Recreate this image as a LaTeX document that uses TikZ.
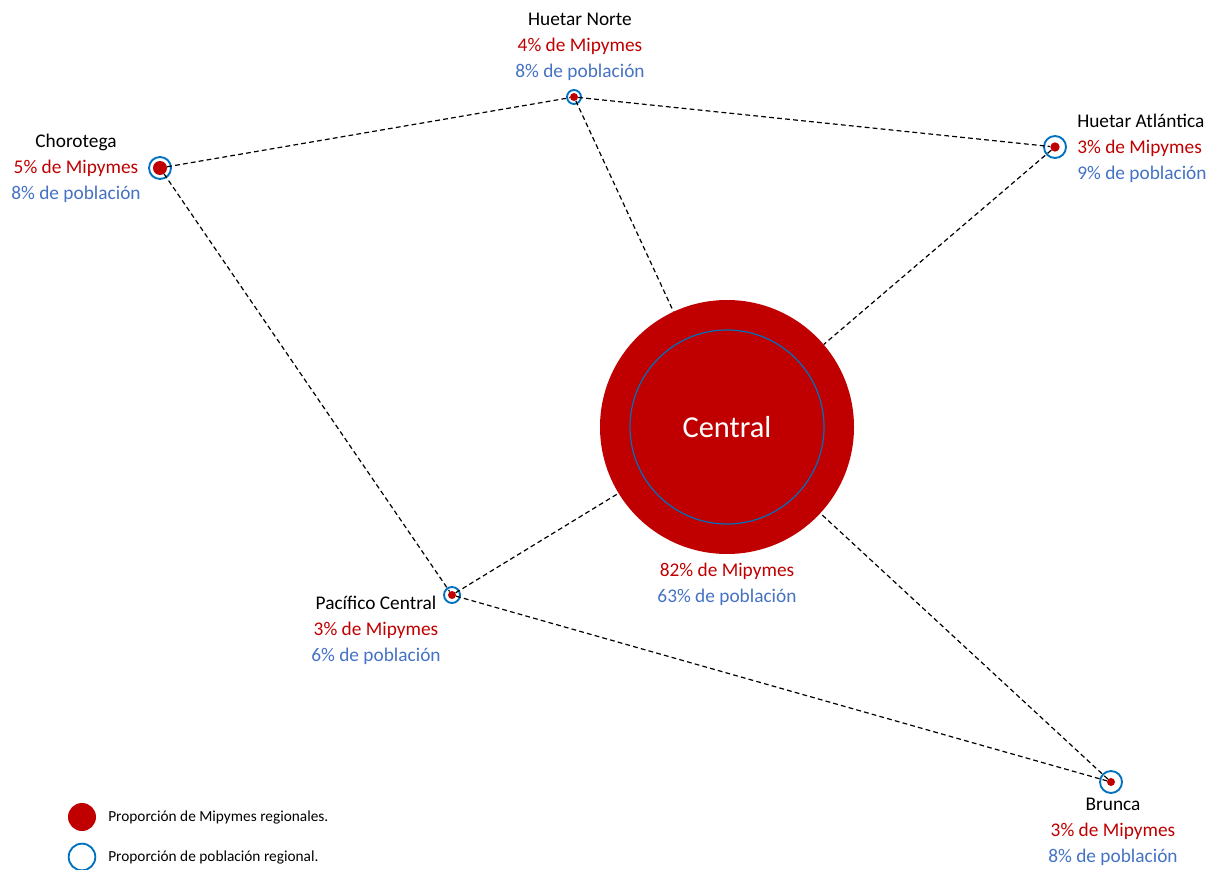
\documentclass[tikz,border=0pt]{standalone}
\usepackage{fontspec}
\setmainfont{Carlito}
\definecolor{mipred}{HTML}{C00000}
\definecolor{ringblue}{HTML}{0070C0}
\definecolor{pobblue}{HTML}{4472C4}
\begin{document}
\begin{tikzpicture}[x=0.75pt,y=-0.75pt,
    font=\fontsize{14.5}{19.5}\selectfont,
    dot/.style={circle,fill=mipred,inner sep=0pt,minimum size=#1},
    ring/.style={circle,draw=ringblue,line width=1.4pt,inner sep=0pt,minimum size=#1},
    link/.style={dashed,dash pattern=on 3.6pt off 2.4pt,line width=0.9pt},
    lab/.style={align=center,inner sep=0pt}]
    \useasboundingbox (0,0) rectangle (1211,870);
    % regions
    \node[ring=16.5pt] (cho_r) at (160,168) {};
    \node[dot=10.5pt] (cho) at (160,168) {};
    \node[ring=10.5pt] (hn_r) at (574,97) {};
    \node[dot=6pt] (hn) at (574,97) {};
    \node[ring=16.5pt] (ha_r) at (1055,147) {};
    \node[dot=7pt] (ha) at (1055,147) {};
    \node[ring=12pt] (pc_r) at (452,595) {};
    \node[dot=6pt] (pc) at (452,595) {};
    \node[ring=16.5pt] (bru_r) at (1111,782) {};
    \node[dot=6pt] (bru) at (1111,782) {};
    \node[dot=190.5pt] (cen) at (727,427) {};
    \node[circle,draw=ringblue,line width=0.9pt,minimum size=145.5pt,inner sep=0pt,
        text=white,font=\fontsize{22.8}{26}\selectfont] (cen_r) at (727,427) {Central};
    % connections
    \draw[link] (cho) -- (hn);
    \draw[link] (hn) -- (ha);
    \draw[link] (cho) -- (pc);
    \draw[link] (pc) -- (bru);
    \draw[link] (hn) -- (cen);
    \draw[link] (ha) -- (cen);
    \draw[link] (pc) -- (cen);
    \draw[link] (bru) -- (cen);
    % labels
    \node[lab] (hn_t) at (580,47) {Huetar Norte\\\textcolor{mipred}{4\% de Mipymes}\\\textcolor{pobblue}{8\% de población}};
    \node[lab] (cho_t) at (76,168) {Chorotega\\\textcolor{mipred}{5\% de Mipymes}\\\textcolor{pobblue}{8\% de población}};
    \node[lab,align=left,anchor=west] (ha_t) at (1077,148) {Huetar Atlántica\\\textcolor{mipred}{3\% de Mipymes}\\\textcolor{pobblue}{9\% de población}};
    \node[lab] (pc_t) at (376,630) {Pacífico Central\\\textcolor{mipred}{3\% de Mipymes}\\\textcolor{pobblue}{6\% de población}};
    \node[lab] (bru_t) at (1113,832) {Brunca\\\textcolor{mipred}{3\% de Mipymes}\\\textcolor{pobblue}{8\% de población}};
    \node[lab] (cen_t) at (727,584) {\textcolor{mipred}{82\% de Mipymes}\\\textcolor{pobblue}{63\% de población}};
    % legend
    \node[dot=21pt] (leg_m) at (82,817) {};
    \node[ring=20pt] (leg_p) at (82,857) {};
    \node[anchor=west,inner sep=0pt,font=\fontsize{11.5}{13}\selectfont] (leg_mt) at (108,817) {Proporción de Mipymes regionales.};
    \node[anchor=west,inner sep=0pt,font=\fontsize{11.5}{13}\selectfont] (leg_pt) at (108,857) {Proporción de población regional.};
\end{tikzpicture}
\end{document}
